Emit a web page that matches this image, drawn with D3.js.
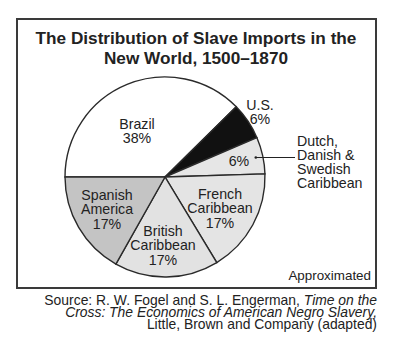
<!DOCTYPE html>
<html><head><meta charset="utf-8">
<script src="https://cdn.jsdelivr.net/npm/d3@7"></script>
<style>
html,body{margin:0;padding:0;background:#fff;}
svg{display:block;font-family:"Liberation Sans",Arial,Helvetica,sans-serif;}
</style></head>
<body>
<svg id="c" width="396" height="356"></svg>
<script>
const categories = ["Brazil","U.S.","Dutch, Danish & Swedish Caribbean","French Caribbean","British Caribbean","Spanish America"];
const values = [38, 6, 6, 17, 17, 17];
const fills = ["#ffffff","#111111","#e6e6e6","#e4e4e4","#e2e2e2","#c4c4c4"];
const labelLines = [["Brazil","38%"],["U.S.","6%"],["6%"],["French","Caribbean","17%"],["British","Caribbean","17%"],["Spanish","America","17%"]];
const calloutLines = ["Dutch,","Danish &","Swedish","Caribbean"];
const titleLines = ["The Distribution of Slave Imports in the","New World, 1500\u20131870"];

const svg = d3.select("#c");
const ink = "#222";

// frame
svg.append("rect").attr("x",17).attr("y",19).attr("width",359).attr("height",269)
  .attr("fill","#fff").attr("stroke","#3a3a3a").attr("stroke-width",2);

// title
svg.append("g").selectAll("text").data(titleLines).join("text")
  .attr("x",196).attr("y",(d,i)=>43.5+i*20).attr("text-anchor","middle")
  .attr("font-size",17.2).attr("font-weight","bold").attr("fill",ink).text(d=>d);

const cx=165, cy=177, r=100;
const pie = d3.pie().sort(null).value(d=>d).startAngle(-Math.PI/2).endAngle(1.5*Math.PI);
const arcs = pie(values);
const arc = d3.arc().innerRadius(0).outerRadius(r);
const g = svg.append("g").attr("transform",`translate(${cx},${cy})`);
g.selectAll("path").data(arcs).join("path")
  .attr("d",arc).attr("fill",(d,i)=>fills[i]).attr("stroke","#2a2a2a").attr("stroke-width",1.4);

// label layout: [x offset, first baseline offset] from pie centre
const labelLayout = [[-28,-48.5],[95,-67],[74,-11],[55,22],[-2,59],[-58,23]];
const lh = 14.3;
arcs.forEach((a,i)=>{
  const [lx,ly] = labelLayout[i];
  const t = g.append("text").attr("text-anchor","middle").attr("font-size",14.2).attr("fill",ink);
  labelLines[i].forEach((s,j)=>{
    t.append("tspan").attr("x",lx).attr("y",ly + j*lh).text(s);
  });
});

// callout for Dutch slice
const dutch = arcs[2];
const da = (dutch.startAngle+dutch.endAngle)/2 - Math.PI/2;
const px = cx + Math.cos(da)*r*0.93, py = cy - 19.5;
svg.append("line").attr("x1",px).attr("y1",py).attr("x2",295).attr("y2",py)
  .attr("stroke",ink).attr("stroke-width",1.2);
svg.append("circle").attr("cx",px).attr("cy",py).attr("r",1.3).attr("fill",ink);
svg.append("text").attr("font-size",14.2).attr("fill",ink).selectAll("tspan")
  .data(calloutLines).join("tspan").attr("x",297).attr("y",(d,i)=>146+i*14.1).text(d=>d);

svg.append("text").attr("x",371).attr("y",280).attr("text-anchor","end")
  .attr("font-size",13.4).attr("fill",ink).text("Approximated");

// source
const fs = 13.9;
const src = svg.append("text").attr("text-anchor","end").attr("font-size",fs).attr("fill",ink)
  .attr("x",377).attr("y",304.5);
src.append("tspan").text("Source: R. W. Fogel and S. L. Engerman, ");
src.append("tspan").attr("font-style","italic").text("Time on the");
svg.append("text").attr("text-anchor","end").attr("font-size",fs).attr("fill",ink)
  .attr("x",377).attr("y",316.8).attr("font-style","italic").text("Cross: The Economics of American Negro Slavery,");
svg.append("text").attr("text-anchor","end").attr("font-size",fs).attr("fill",ink)
  .attr("x",377).attr("y",329).text("Little, Brown and Company (adapted)");
</script>
</body></html>
